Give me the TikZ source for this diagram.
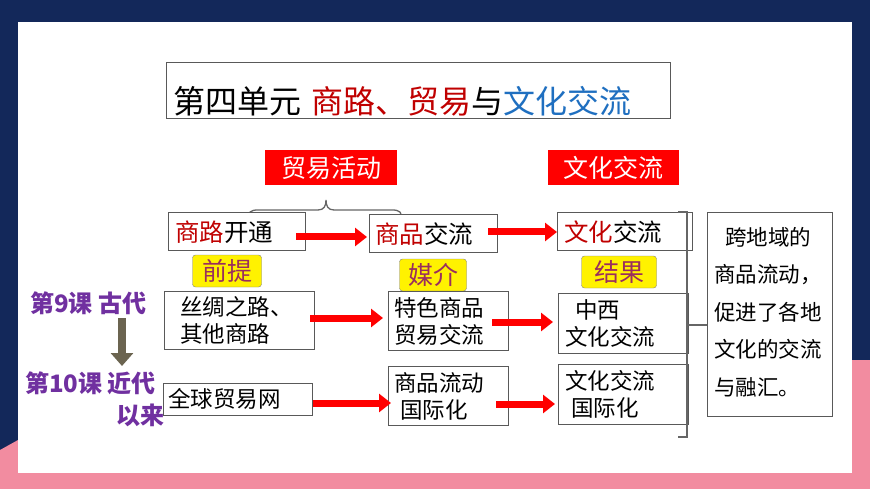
\documentclass[tikz,border=0pt]{standalone}
\usepackage{fontspec}
\setmainfont{Noto Sans CJK SC}
\usetikzlibrary{arrows.meta}
\definecolor{navy}{HTML}{13285A}
\definecolor{pinkbg}{HTML}{F28CA0}
\definecolor{dred}{HTML}{C00000}
\definecolor{tblue}{HTML}{1F6FC0}
\definecolor{purp}{HTML}{7030A0}
\definecolor{lbl}{HTML}{9A2E5E}
\definecolor{garr}{HTML}{6B6450}
\begin{document}
\begin{tikzpicture}[x=1pt,y=-1pt,
  box/.style={draw=black!65,line width=0.8pt,fill=white},
  redbox/.style={fill=red,text=white,font=\fontsize{25}{25}\selectfont,inner sep=0pt},
  ylw/.style={fill=yellow,draw=black!50,rounded corners=3pt,text=lbl,font=\fontsize{25}{25}\selectfont,inner sep=0pt},
  txt/.style={font=\fontsize{22.5}{27}\selectfont,align=left,anchor=west,inner sep=0pt},
  rtxt/.style={font=\fontsize{24.5}{24}\selectfont,anchor=west,inner sep=0pt},
  rarr/.style={red,line width=7pt,-{Triangle[length=12pt,width=18pt]}},
  side/.style={text=purp,font=\bfseries\fontsize{24}{24}\selectfont}]
\useasboundingbox (0,0) rectangle (870,489);
\fill[navy] (0,0) rectangle (870,489);
\fill[pinkbg] (0,450) -- (0,489) -- (870,489) -- (870,360) -- (852,360) -- (852,473) -- (18,473) -- (18,440) -- cycle;
\fill[white] (18,22) rectangle (852,473);
% title
\node[box,minimum width=504pt,minimum height=56pt,anchor=north west] (title) at (166,62) {};
\node[anchor=west,font=\fontsize{32}{32}\selectfont,inner sep=0pt] (tt) at (173,101) {第四单元\hspace{10pt}\textcolor{dred}{商路、贸易}与\textcolor{tblue}{文化交流}};
% red headers
\node[redbox,minimum width=132pt,minimum height=35pt] (h1) at (331,168) {贸易活动};
\node[redbox,minimum width=131pt,minimum height=35pt] (h2) at (613,168) {文化交流};
% brace
\draw[black!60,line width=1.3pt] (248,221) .. controls (248,212) and (250,210) .. (258,210) -- (318,210) .. controls (324,210) and (326,206) .. (326,200)
  .. controls (326,206) and (328,210) .. (334,210) -- (392,210) .. controls (400,210) and (402,212) .. (402,221);
% row1
\node[box,minimum width=137pt,minimum height=38pt] (a1) at (237,231) {};
\node[rtxt] at (175,232) {\textcolor{dred}{商路}开通};
\node[box,minimum width=128pt,minimum height=38pt] (b1) at (433,233) {};
\node[rtxt] at (375,234) {\textcolor{dred}{商品}交流};
\node[box,minimum width=135pt,minimum height=38pt] (c1) at (625,231) {};
\node[rtxt] at (564,232) {\textcolor{dred}{文化}交流};
\draw[rarr] (296,237) -- (367,237);
\draw[rarr] (488,232) -- (557,232);
% yellow
\node[ylw,minimum width=69pt,minimum height=32pt] (y1) at (227,271) {前提};
\node[ylw,minimum width=67pt,minimum height=32pt] (y2) at (433,275) {媒介};
\node[ylw,minimum width=75pt,minimum height=32pt] (y3) at (619,272) {结果};
% row2
\node[box,minimum width=150pt,minimum height=58pt] (a2) at (239,320) {};
\node[txt] at (180,320) {丝绸之路、\\其他商路};
\node[box,minimum width=120pt,minimum height=59pt] (b2) at (448,321) {};
\node[txt] at (394,321) {特色商品\\贸易交流};
\node[box,minimum width=130pt,minimum height=60pt] (c2) at (623,323) {};
\node[txt] at (565,323) {\hspace{10pt}中西\\文化交流};
\draw[rarr] (310,318) -- (383,318);
\draw[rarr] (492,322) -- (553,322);
% row3
\node[box,minimum width=149pt,minimum height=32pt] (a3) at (238,399) {};
\node[txt] at (168,399) {全球贸易网};
\node[box,minimum width=120pt,minimum height=59pt] (b3) at (448,396) {};
\node[txt] at (394,396) {商品流动\\\hspace{6pt}国际化};
\node[box,minimum width=130pt,minimum height=60pt] (c3) at (623,394) {};
\node[txt] at (565,394) {文化交流\\\hspace{6pt}国际化};
\draw[rarr] (313,403) -- (391,403);
\draw[rarr] (496,404) -- (555,404);
% right bracket
\draw[black!60,line width=1.2pt] (678,212) -- (687,212) -- (687,437) -- (678,437);
\draw[black!60,line width=1.2pt] (687,325) -- (707,325);
\node[box,minimum width=125pt,minimum height=204pt,anchor=north west] (r) at (707,212) {};
\node[anchor=north west,font=\fontsize{21.5}{37.5}\selectfont,align=left,inner sep=0pt] (rt) at (714,227) {\hspace{11pt}跨地域的\\商品流动，\\促进了各地\\文化的交流\\与融汇。};
% left
\node[side,anchor=west,inner sep=0pt] (l1) at (30,303) {第9课 古代};
\draw[garr,line width=8pt,-{Triangle[length=13pt,width=22pt]}] (122,318) -- (122,366);
\node[side,anchor=west,inner sep=0pt] (l2) at (25,383) {第10课 近代};
\node[side,anchor=west,inner sep=0pt] (l3) at (116,415) {以来};
\end{tikzpicture}
\end{document}
